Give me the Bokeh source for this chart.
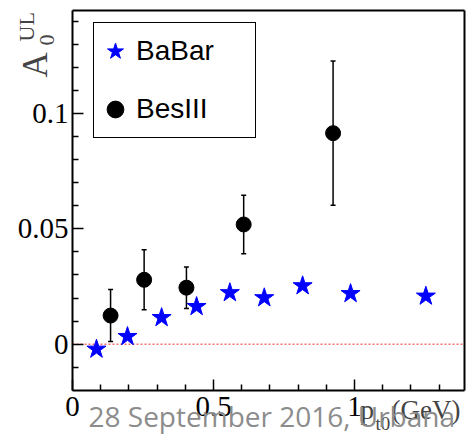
from bokeh.plotting import figure
from bokeh.models import (Range1d, FixedTicker, Label, Legend, LegendItem, Whisker,
                          TeeHead, ColumnDataSource, LinearAxis)
from bokeh.embed import file_html
from bokeh.resources import INLINE
import math

# ---- data ----
babar_x = [0.085, 0.195, 0.316, 0.44, 0.558, 0.680, 0.816, 0.986, 1.253]
babar_y = [-0.0022, 0.0033, 0.0115, 0.0163, 0.0223, 0.0201, 0.0253, 0.0219, 0.0208]

besiii_x = [0.135, 0.254, 0.404, 0.607, 0.924]
besiii_y = [0.0124, 0.0279, 0.0245, 0.0519, 0.0915]
besiii_err = [0.0113, 0.013, 0.009, 0.0127, 0.0313]

x_ticks = [0, 0.5, 1]
x_tick_labels = ["0", "0.5", "1"]
x_minor = [0.1, 0.2, 0.3, 0.4, 0.6, 0.7, 0.8, 0.9, 1.1, 1.2, 1.3]
y_ticks = [0, 0.05, 0.1]
y_tick_labels = ["0", "0.05", "0.1"]
y_minor = [-0.01, 0.01, 0.02, 0.03, 0.04, 0.06, 0.07, 0.08, 0.09, 0.11, 0.12, 0.13, 0.14]

# axis limits of the plotted box
X_LO, X_HI = 0.0, 1.39
Y_LO, Y_HI = -0.0201, 0.1447

# ---- layout (pixels) ----
W, H = 466, 435
BOX_L, BOX_R, BOX_T, BOX_B = 72, 464, 10, 390
sx_per = (X_HI - X_LO) / (BOX_R - BOX_L)
sy_per = (Y_HI - Y_LO) / (BOX_B - BOX_T)
x_range = Range1d(X_LO - BOX_L * sx_per, X_HI + (W - BOX_R) * sx_per)
y_range = Range1d(Y_LO - (H - BOX_B) * sy_per, Y_HI + BOX_T * sy_per)

SERIF = "Liberation Serif"

p = figure(width=W, height=H, output_backend="svg", toolbar_location=None,
           x_range=x_range, y_range=y_range,
           min_border=0, min_border_left=0, min_border_right=0,
           min_border_top=0, min_border_bottom=0)
p.grid.visible = False
p.outline_line_color = None
p.background_fill_color = "white"
p.border_fill_color = "white"

for ax, ticks, minor, labels, loc, bnds in (
        (p.xaxis[0], x_ticks, x_minor, x_tick_labels, Y_LO, (X_LO, X_HI)),
        (p.yaxis[0], y_ticks, y_minor, y_tick_labels, X_LO, (Y_LO, Y_HI))):
    ax.fixed_location = loc
    ax.bounds = bnds
    ax.ticker = FixedTicker(ticks=ticks, minor_ticks=minor)
    ax.major_label_overrides = {t: l for t, l in zip(ticks, labels)}
    ax.axis_line_width = 2
    ax.major_tick_in = 11
    ax.major_tick_out = 0
    ax.minor_tick_in = 6
    ax.minor_tick_out = 0
    ax.major_tick_line_width = 1.5
    ax.minor_tick_line_width = 1.5
    ax.major_label_text_font = SERIF
    ax.major_label_text_font_size = "29px"
    ax.major_label_text_color = "black"

p.xaxis.major_label_standoff = 6
p.yaxis.major_label_standoff = 4

# top and right frame lines
p.add_layout(LinearAxis(fixed_location=X_HI, bounds=(Y_LO, Y_HI), ticker=FixedTicker(ticks=[]),
                        axis_line_width=2, major_tick_line_color=None,
                        minor_tick_line_color=None, major_label_text_font_size="0px"), "right")
p.add_layout(LinearAxis(fixed_location=Y_HI, bounds=(X_LO, X_HI), ticker=FixedTicker(ticks=[]),
                        axis_line_width=2, major_tick_line_color=None,
                        minor_tick_line_color=None, major_label_text_font_size="0px"), "above")

# zero line
p.segment(x0=[X_LO], x1=[X_HI], y0=[0], y1=[0], line_color="#ff6a6a",
          line_dash="2 2", line_width=1.5)

# BesIII error bars
src_b = ColumnDataSource(dict(x=besiii_x, y=besiii_y,
                              lo=[y - e for y, e in zip(besiii_y, besiii_err)],
                              hi=[y + e for y, e in zip(besiii_y, besiii_err)]))
p.add_layout(Whisker(source=src_b, base="x", lower="lo", upper="hi",
                     line_color="black", line_width=1.5,
                     upper_head=TeeHead(size=5, line_width=1.5, line_color="black"),
                     lower_head=TeeHead(size=5, line_width=1.5, line_color="black"),
                     level="glyph"))

r_besiii = p.scatter("x", "y", source=src_b, marker="circle", size=15,
                     fill_color="black", line_color="black")
r_babar = p.scatter(babar_x, babar_y, marker="star", size=20,
                    fill_color="#0000ff", line_color="#0000ff")

legend = Legend(items=[LegendItem(label="BaBar", renderers=[r_babar]),
                       LegendItem(label="BesIII", renderers=[r_besiii])],
                location=(93, H - 138), orientation="vertical", padding=0, margin=0,
                spacing=2, glyph_width=42, glyph_height=56, label_height=56,
                label_width=119, label_standoff=0,
                label_text_font="Liberation Sans", label_text_font_size="28px",
                label_text_color="black",
                border_line_color="black", border_line_width=1.5, border_line_alpha=1,
                background_fill_color="white", background_fill_alpha=1)
p.add_layout(legend)

# y-axis title A_0^UL (rotated); screen units from the canvas bottom-left
p.add_layout(Label(x=35, y=358, x_units="screen", y_units="screen", text="A",
                   angle=math.pi / 2, text_font=SERIF, text_font_size="35px",
                   text_align="left", text_baseline="alphabetic"))
p.add_layout(Label(x=46, y=390, x_units="screen", y_units="screen", text="0",
                   angle=math.pi / 2, text_font=SERIF, text_font_size="22px",
                   text_align="left", text_baseline="alphabetic"))
p.add_layout(Label(x=26, y=394, x_units="screen", y_units="screen", text="UL",
                   angle=math.pi / 2, text_font=SERIF, text_font_size="22px",
                   text_align="left", text_baseline="alphabetic"))

# x-axis title p_t0 (GeV)
p.add_layout(Label(x=360, y=26, x_units="screen", y_units="screen", text="p",
                   text_font=SERIF, text_font_size="27px",
                   text_align="left", text_baseline="alphabetic"))
p.add_layout(Label(x=375, y=12, x_units="screen", y_units="screen", text="t0",
                   text_font=SERIF, text_font_size="19px",
                   text_align="left", text_baseline="alphabetic"))
p.add_layout(Label(x=391, y=26, x_units="screen", y_units="screen", text="(GeV)",
                   text_font=SERIF, text_font_size="27px",
                   text_align="left", text_baseline="alphabetic"))

# footer
p.add_layout(Label(x=88, y=20, x_units="screen", y_units="screen",
                   text="28 September 2016, Urbana",
                   text_font="Open Sans", text_font_size="28px", text_color="#8c8c8c",
                   text_align="left", text_baseline="alphabetic"))

open("out.html", "w").write(file_html(p, INLINE))
